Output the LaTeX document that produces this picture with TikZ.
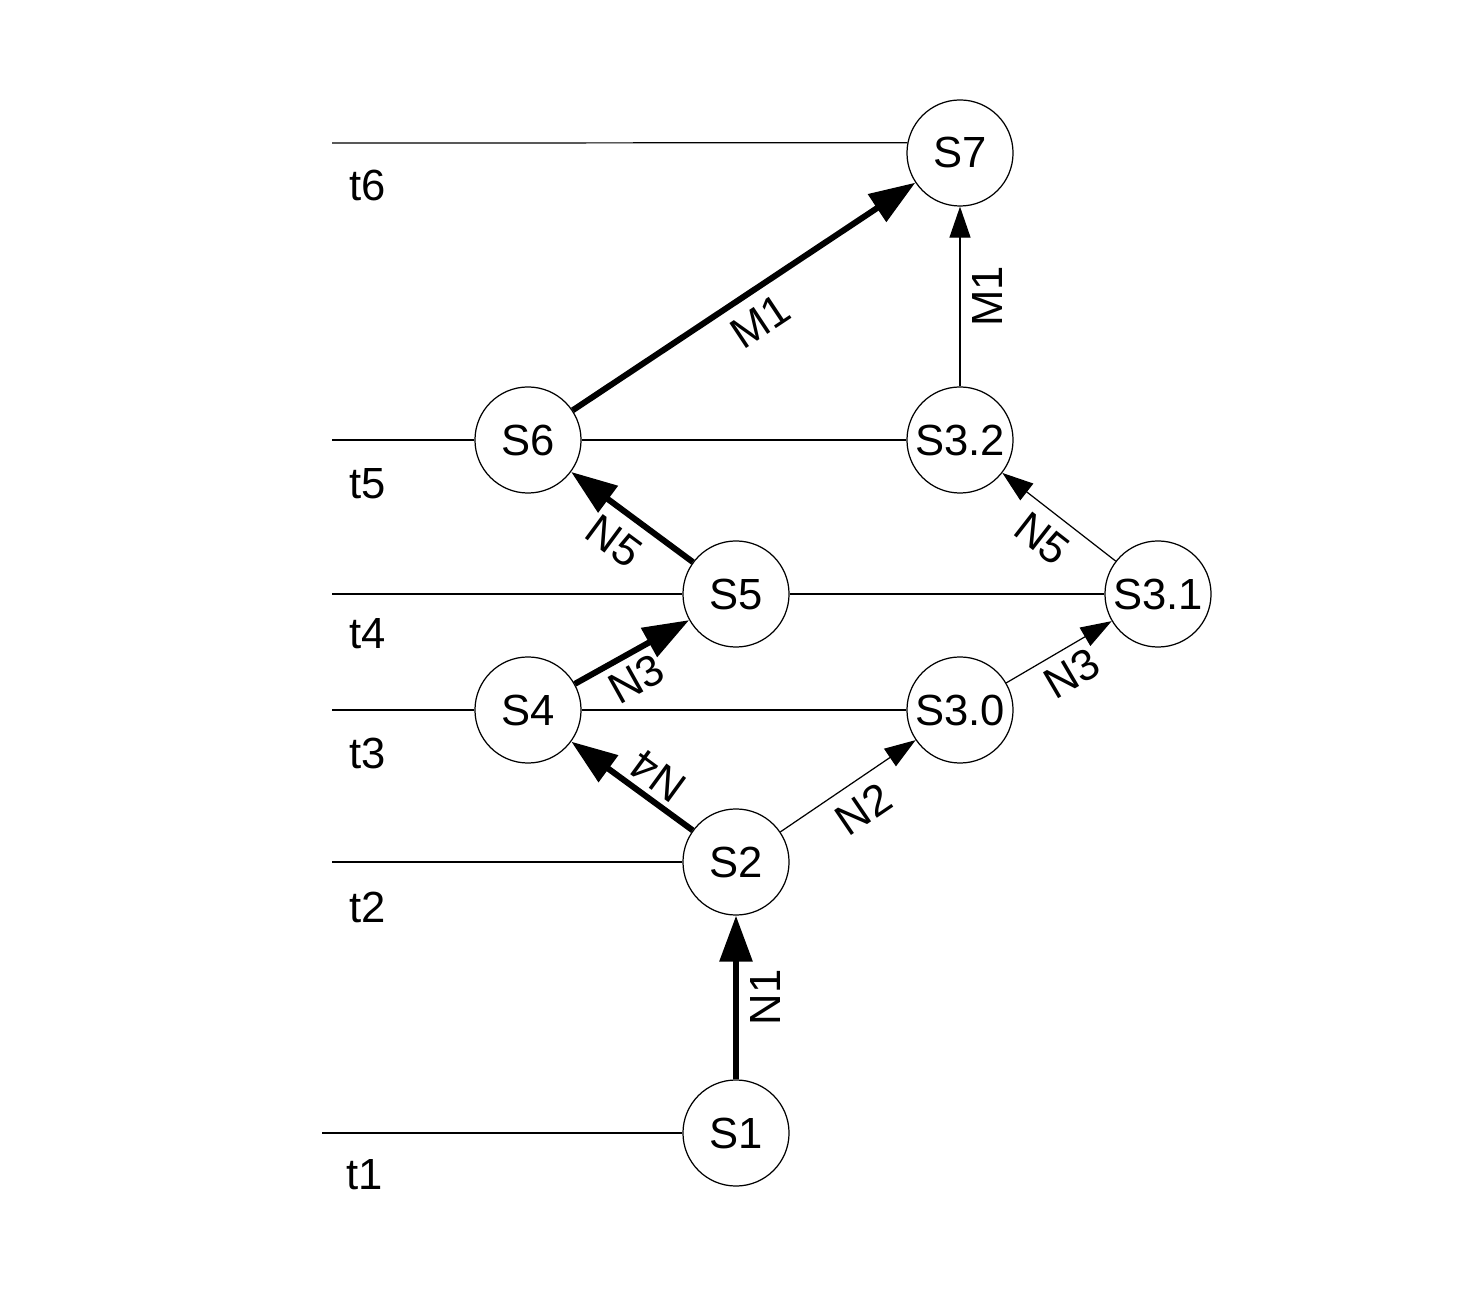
\documentclass[tikz,border=0pt]{standalone}
\usepackage{fontspec}
\setmainfont{Liberation Sans}
\usetikzlibrary{arrows.meta}

\begin{document}
\begin{tikzpicture}[x=0.01cm,y=-0.01cm,line width=0.35pt,
	  every node/.style={font=\fontsize{12.4}{15}\selectfont},
	  state/.style={circle,draw,minimum size=1.06cm,inner sep=0pt},
	  main/.style={-{Triangle[length=4.6mm,width=3.2mm]},line width=0.6mm},
	  side/.style={-{Triangle[length=3.1mm,width=2.1mm]}},
	  lbl/.style={midway,sloped,below}]
	  \useasboundingbox (0,0) rectangle (1476,1298);
	  \node (s1) [state] at (736,1133) {S1};
	  \node (s2) [state] at (736,862) {S2};
	  \node (s4) [state] at (528,710) {S4};
	  \node (s30) [state] at (960,710) {S3.0};
	  \node (s5) [state] at (736,594) {S5};
	  \node (s31) [state] at (1158,594) {S3.1};
	  \node (s6) [state] at (528,440) {S6};
	  \node (s32) [state] at (960,440) {S3.2};
	  \node (s7) [state] at (960,153) {S7};
	  \coordinate (l1) at (322,1133);
	  \coordinate (l2) at (332,862);
	  \coordinate (l3) at (332,710);
	  \coordinate (l4) at (332,594);
	  \coordinate (l5) at (332,440);
	  \coordinate (l6) at (332,143);
	  \node (t1) at (365,1175) {t1};
	  \node (t2) at (368,907) {t2};
	  \node (t3) at (368,753) {t3};
	  \node (t4) at (368,634) {t4};
	  \node (t5) at (368,484) {t5};
	  \node (t6) at (368,185) {t6};
	  \draw (l1) -- (s1);
	  \draw (l2) -- (s2);
	  \draw (l3) -- (s4);
	  \draw (s4) -- (s30);
	  \draw (l4) -- (s5);
	  \draw (s5) -- (s31);
	  \draw (l5) -- (s6);
	  \draw (s6) -- (s32);
	  \draw (l6) -- (s7.169);
	  \draw[main] (s1) to node [lbl,allow upside down] {N1} (s2);
	  \draw[main] (s2) to node [lbl,allow upside down,pos=0.4,inner sep=1.5pt] {N4} (s4);
	  \draw[side] (s2) to node [lbl] {N2} (s30);
	  \draw[main] (s4) to node [lbl,pos=0.43,inner sep=2pt] {N3} (s5);
	  \draw[side] (s30) to node [lbl,inner sep=2.5pt] {N3} (s31);
	  \draw[main] (s5) to node [lbl] {N5} (s6);
	  \draw[side] (s31) to node [lbl] {N5} (s32);
	  \draw[main] (s6) to node [lbl] {M1} (s7);
	  \draw[side] (s32) to node [lbl,allow upside down] {M1} (s7);
\end{tikzpicture}
\end{document}
